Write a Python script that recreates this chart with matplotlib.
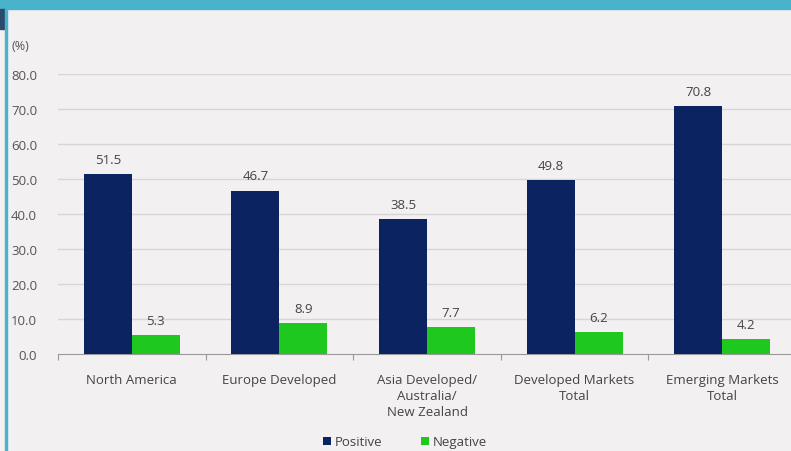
import matplotlib.pyplot as plt
import numpy as np
from matplotlib.patches import Rectangle

# datos
categorias = ["North America", "Europe Developed", "Asia Developed/\nAustralia/\nNew Zealand",
              "Developed Markets\nTotal", "Emerging Markets\nTotal"]
positivo = [51.5, 46.7, 38.5, 49.8, 70.8]
negativo = [5.3, 8.9, 7.7, 6.2, 4.2]
yticks = [0, 10, 20, 30, 40, 50, 60, 70, 80]

plt.rcParams['font.family'] = ['Open Sans', 'DejaVu Sans']
fondo = '#f2f0f1'
azul = '#0b2461'
verde = '#1ec81e'

fig = plt.figure(figsize=(7.91, 4.52), dpi=100, facecolor=fondo)

# marco: barra superior, esquina oscura y borde izquierdo
fig.patches.append(Rectangle((0, 1 - 10 / 452), 1, 10 / 452, transform=fig.transFigure,
                             color='#4ab3cc', zorder=0))
fig.patches.append(Rectangle((0, 1 - 30 / 452), 5 / 791, 20 / 452, transform=fig.transFigure,
                             color='#2c4a6b', zorder=0))
fig.patches.append(Rectangle((5 / 791, 0), 1.5 / 791, 1 - 10 / 452, transform=fig.transFigure,
                             color='#4ab3cc', zorder=0))

ax = fig.add_axes([58 / 791, 97 / 452, 738 / 791, 280 / 452])
ax.set_facecolor(fondo)

x = np.arange(len(categorias))
w = 0.325
b1 = ax.bar(x - w / 2, positivo, w, color=azul, label='Positive', zorder=3)
b2 = ax.bar(x + w / 2, negativo, w, color=verde, label='Negative', zorder=3)

for rect, v in list(zip(b1, positivo)) + list(zip(b2, negativo)):
    ax.text(rect.get_x() + rect.get_width() / 2, v + 2.3, f"{v:.1f}",
            ha='center', va='bottom', fontsize=9.5, color='#444444')

ax.set_xlim(-0.5, 4.5)
ax.set_ylim(0, 80)
ax.set_yticks(yticks)
ax.set_yticklabels([f"{t:.1f}" for t in yticks], fontsize=9.5, color='#555555')
ax.tick_params(axis='y', length=0, pad=15)
for t in yticks[1:]:
    ax.axhline(t, color='#d6d6d6', lw=1, zorder=1)

# etiquetas de categoria y marcas en los limites
ax.set_xticks(np.arange(-0.5, 5, 1))
ax.set_xticklabels([])
ax.set_xticks(x, minor=True)
ax.set_xticklabels(categorias, minor=True, fontsize=9.5, color='#444444', linespacing=1.3)
ax.tick_params(axis='x', which='major', length=4, color='#999999')
ax.tick_params(axis='x', which='minor', length=0, pad=14)

for s in ['top', 'right', 'left']:
    ax.spines[s].set_visible(False)
ax.spines['bottom'].set_color('#999999')

fig.text(12 / 791, 1 - 47 / 452, "(%)", fontsize=9, color='#555555', va='center')

fig.legend(handles=[b1, b2], loc='center', bbox_to_anchor=(405 / 791, 1 - 443 / 452),
           ncol=2, frameon=False, fontsize=9.5, handlelength=0.6, handleheight=0.6,
           columnspacing=2.9, handletextpad=0.3, labelcolor='#444444')

plt.savefig("out.png", dpi=100, facecolor=fondo)
